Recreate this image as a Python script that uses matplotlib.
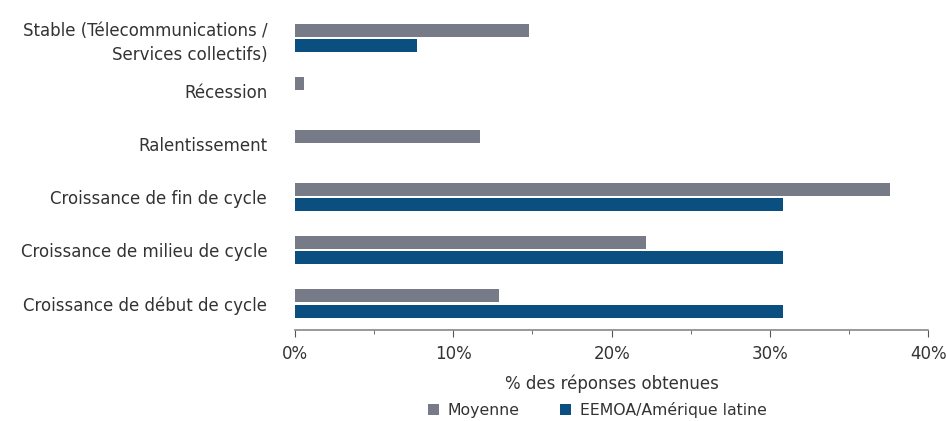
import numpy as np
import matplotlib.pyplot as plt
from matplotlib.ticker import MultipleLocator, FuncFormatter

plt.rcParams['font.family'] = ['DejaVu Sans']

categories = ['Stable (Télecommunications /\nServices collectifs)', 'Récession',
              'Ralentissement', 'Croissance de fin de cycle',
              'Croissance de milieu de cycle', 'Croissance de début de cycle']
moyenne = [14.8, 0.6, 11.7, 37.6, 22.2, 12.9]
eemoa = [7.7, 0.0, 0.0, 30.8, 30.8, 30.8]
series_names = ['Moyenne', 'EEMOA/Amérique latine']

grey = '#767b87'
blue = '#0b4f80'
text_color = '#333333'
fs = 12

fig = plt.figure(figsize=(9.46, 4.21), dpi=100)
ax = fig.add_axes([0.3118, 0.2162, 0.6695, 0.7565])

y = np.arange(len(categories))
h = 0.245
ax.barh(y - h / 2 - 0.02, moyenne, height=h, color=grey, label=series_names[0])
ax.barh(y + h / 2 + 0.02, eemoa, height=h, color=blue, label=series_names[1])

ax.set_ylim(len(categories) - 0.5, -0.5)
ax.set_xlim(0, 40)
ax.set_yticks(y)
ax.set_yticklabels(categories, fontsize=fs, color=text_color, ha='right',
                   multialignment='right', linespacing=1.45)
ax.tick_params(axis='y', length=0, pad=20)

ax.xaxis.set_major_locator(MultipleLocator(10))
ax.xaxis.set_minor_locator(MultipleLocator(5))
ax.xaxis.set_major_formatter(FuncFormatter(lambda v, p: '%d%%' % v))
ax.tick_params(axis='x', which='major', length=5, color='#555555',
               labelsize=fs, labelcolor=text_color, pad=6)
ax.tick_params(axis='x', which='minor', length=3, color='#555555')

for s in ['top', 'right', 'left']:
    ax.spines[s].set_visible(False)
ax.spines['bottom'].set_color('#888888')
ax.spines['bottom'].set_linewidth(1.2)

ax.set_xlabel('% des réponses obtenues', fontsize=fs, color=text_color, labelpad=8)

leg = ax.legend(loc='center', bbox_to_anchor=(0.477, -0.25), ncol=2,
                frameon=False, fontsize=11.3, handlelength=0.7, handleheight=0.7,
                columnspacing=2.6, handletextpad=0.55, borderaxespad=0, borderpad=0)
for t in leg.get_texts():
    t.set_color(text_color)

fig.savefig('out.png', dpi=100)
